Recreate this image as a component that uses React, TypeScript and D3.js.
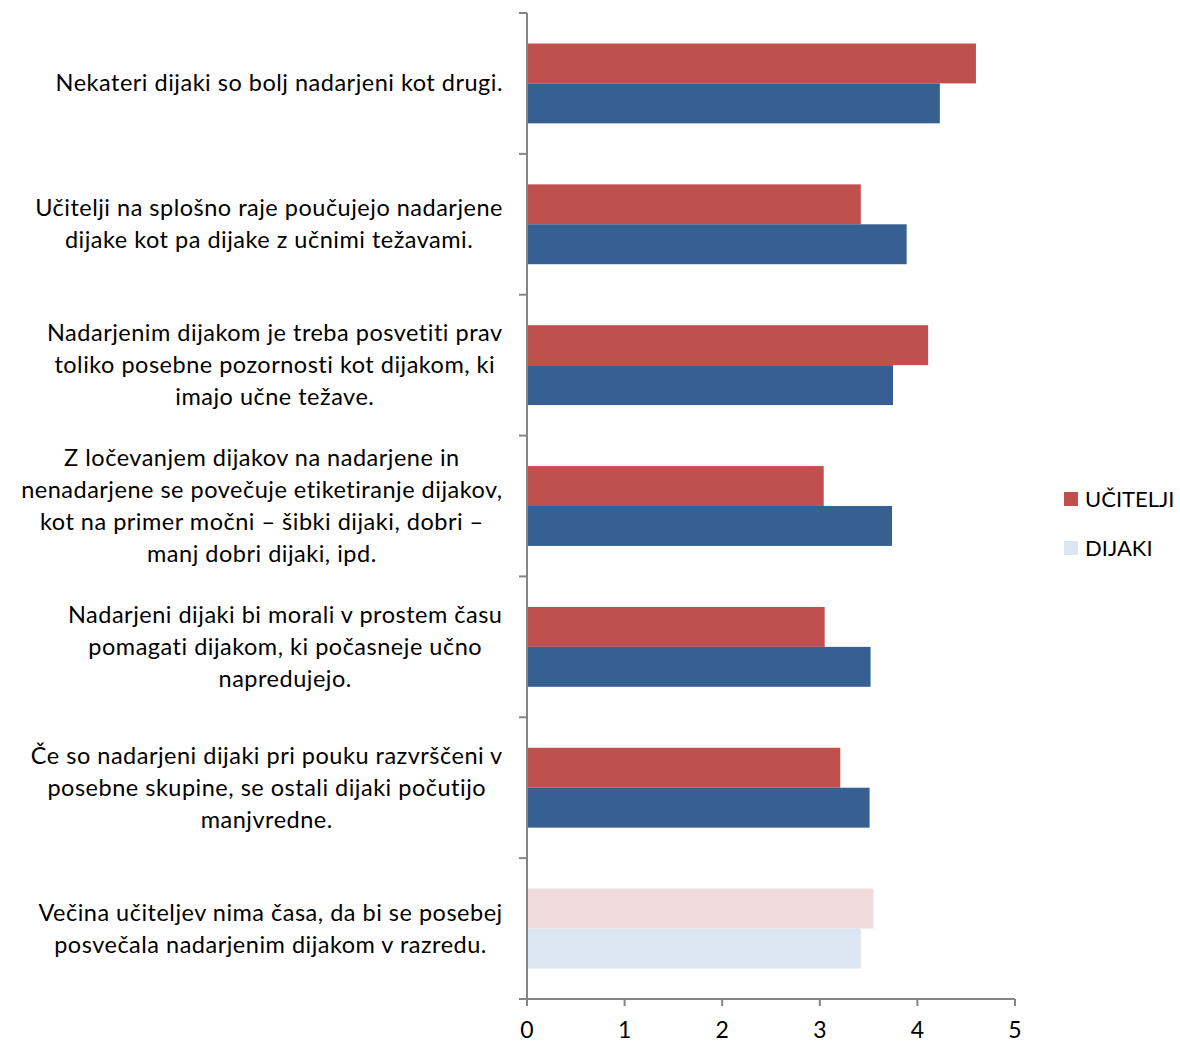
import React from "react";
import * as d3 from "d3";

const categories: string[][] = [
  ["Nekateri dijaki so bolj nadarjeni kot drugi."],
  ["Učitelji na splošno raje poučujejo nadarjene", "dijake kot pa dijake z učnimi težavami."],
  ["Nadarjenim dijakom je treba posvetiti prav", "toliko posebne pozornosti kot dijakom, ki", "imajo učne težave."],
  ["Z ločevanjem dijakov na nadarjene in", "nenadarjene se povečuje etiketiranje dijakov,", "kot na primer močni – šibki dijaki, dobri –", "manj dobri dijaki, ipd."],
  ["Nadarjeni dijaki bi morali v prostem času", "pomagati dijakom, ki počasneje učno", "napredujejo."],
  ["Če so nadarjeni dijaki pri pouku razvrščeni v", "posebne skupine, se ostali dijaki počutijo", "manjvredne."],
  ["Večina učiteljev nima časa, da bi se posebej", "posvečala nadarjenim dijakom v razredu."],
];
const seriesNames = ["UČITELJI", "DIJAKI"];
const ucitelji = [4.60, 3.42, 4.11, 3.04, 3.05, 3.21, 3.55];
const dijaki = [4.23, 3.89, 3.75, 3.74, 3.52, 3.51, 3.42];
const fadedCategory = [false, false, false, false, false, false, true];
const xTicks = [0, 1, 2, 3, 4, 5];

const COLORS = ["#C0504D", "#366092"];
const FADED = ["#F2DCDB", "#DCE6F2"];
const FONT = "Lato, 'Noto Sans', sans-serif";
const FS = 23.5;
const LS = 0.5;

let ctx: CanvasRenderingContext2D | null = null;
function measure(t: string): number {
  if (!ctx) ctx = document.createElement("canvas").getContext("2d");
  if (!ctx) return t.length * FS * 0.45;
  ctx.font = `${FS}px Lato`;
  return ctx.measureText(t).width + t.length * LS;
}

export default function App() {
  const W = 1180, H = 1043;
  const x = d3.scaleLinear().domain([0, 5]).range([527, 1015]);
  const keys = categories.map((_, i) => String(i));
  const y = d3.scaleBand<string>().domain(keys).range([13, 999]).paddingInner(0.433).paddingOuter(0.2165);
  const ys = d3.scaleBand<string>().domain(seriesNames).range([0, y.bandwidth()]);
  const step = y.step();
  const values = [ucitelji, dijaki];
  const lineH = 32;

  return (
    <svg width={W} height={H} style={{ position: "absolute", left: 0, top: 0, background: "#fff" }} fontFamily={FONT}>
      {keys.map((k, i) => (
        <g key={k}>
          {seriesNames.map((s, si) => (
            <rect key={s}
              x={x(0)} y={(y(k) as number) + (ys(s) as number)}
              width={x(values[si][i]) - x(0)} height={ys.bandwidth()}
              fill={fadedCategory[i] ? FADED[si] : COLORS[si]} />
          ))}
        </g>
      ))}
      <line x1={527} x2={527} y1={13} y2={999} stroke="#868686" strokeWidth={2} />
      {d3.range(categories.length + 1).map(j => {
        const yy = 13 + j * step;
        return <line key={j} x1={519} x2={527} y1={yy} y2={yy} stroke="#868686" strokeWidth={2} />;
      })}
      <line x1={519} x2={x(5)} y1={999} y2={999} stroke="#868686" strokeWidth={2} />
      {xTicks.map(t => (
        <g key={t}>
          <line x1={x(t)} x2={x(t)} y1={999} y2={1006} stroke="#868686" strokeWidth={2} />
          <text x={x(t)} y={1038} textAnchor="middle" fontSize={23} fill="#000">{t}</text>
        </g>
      ))}
      {categories.map((lines, i) => {
        const maxW = Math.max(...lines.map(measure));
        const cx = 503 - maxW / 2;
        const cy = (y(keys[i]) as number) + y.bandwidth() / 2;
        const start = cy - ((lines.length - 1) * lineH) / 2;
        return lines.map((ln, li) => (
          <text key={i + "-" + li} x={cx} y={start + li * lineH + 8} textAnchor="middle" fontSize={FS} letterSpacing={LS} fill="#000">{ln}</text>
        ));
      })}
      {seriesNames.map((s, si) => (
        <g key={s} transform={`translate(1064, ${499 + si * 49})`}>
          <rect x={0} y={-7} width={14} height={14} fill={si === 0 ? COLORS[0] : FADED[1]} />
          <text x={21} y={8} fontSize={22} fill="#000">{s}</text>
        </g>
      ))}
    </svg>
  );
}
